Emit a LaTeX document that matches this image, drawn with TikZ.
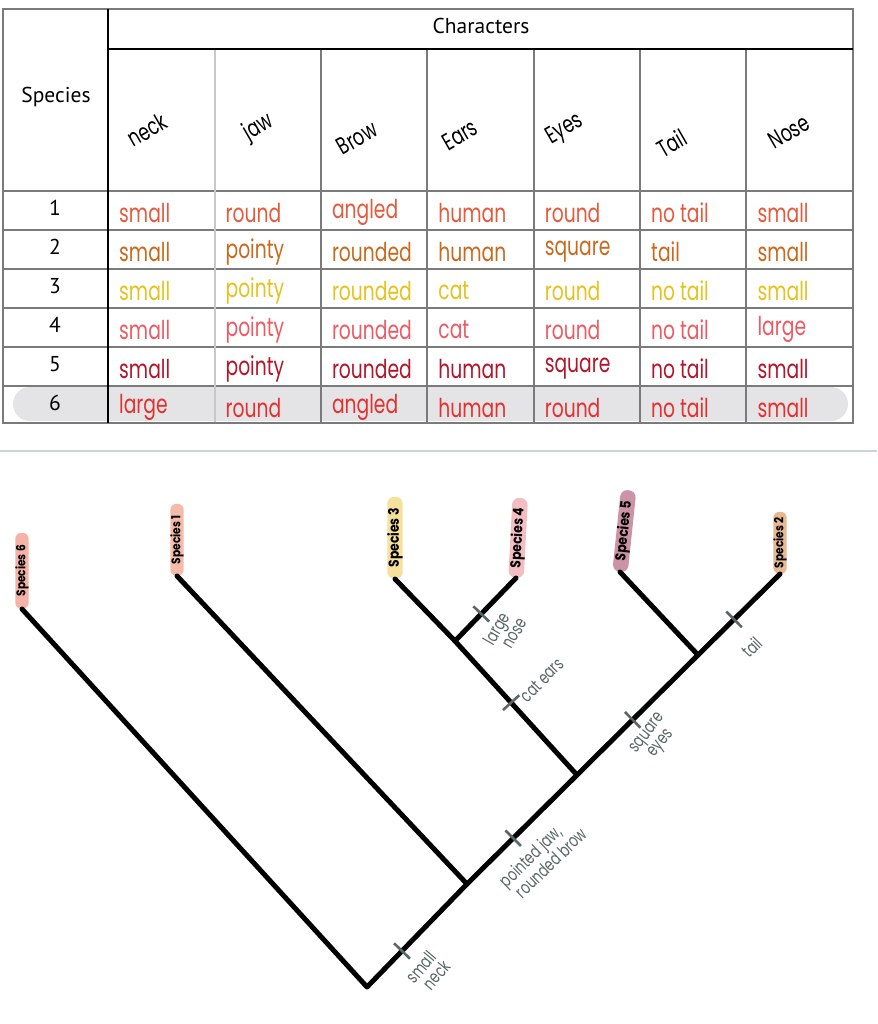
\documentclass[tikz,border=0pt]{standalone}
\usepackage{fontspec}
\setmainfont{PT Sans}
\newfontfamily\hand{Poppins}[FakeStretch=0.72]
\newfontfamily\spfont{Poppins}[FakeStretch=0.85]
\usetikzlibrary{calc}
\definecolor{gridgray}{HTML}{7A7A7A}
\definecolor{gridlight}{HTML}{C8C8C8}
\definecolor{rowhl}{HTML}{E4E3E6}
\definecolor{sepline}{HTML}{C8D5DA}
\definecolor{rowA}{HTML}{E65A3C}
\definecolor{rowB}{HTML}{C86A1E}
\definecolor{rowC}{HTML}{E6C21E}
\definecolor{rowD}{HTML}{EE5A64}
\definecolor{rowE}{HTML}{B3162A}
\definecolor{rowF}{HTML}{E3312F}
\definecolor{labgray}{HTML}{5B6767}
\definecolor{spsix}{HTML}{F4B3A6}
\definecolor{spone}{HTML}{F5BBAA}
\definecolor{spthree}{HTML}{F6E19C}
\definecolor{spfour}{HTML}{F4BDC4}
\definecolor{spfive}{HTML}{CC93A5}
\definecolor{sptwo}{HTML}{E6B894}
\begin{document}
\begin{tikzpicture}[x=1pt,y=-1pt,
  grid/.style={draw=gridgray,line width=1.1pt},
  thickrule/.style={draw=black,line width=2.6pt},
  headtxt/.style={font=\fontsize{21.5}{23}\selectfont,inner sep=0},
  coltxt/.style={font=\hand\fontsize{24}{24}\selectfont,rotate=30,inner sep=0},
  celltxt/.style={font=\hand\fontsize{26}{26}\selectfont,anchor=west,inner sep=0},
  branch/.style={draw=black,line width=5pt,line cap=round,line join=round},
  tick/.style={fill=labgray,draw=none,minimum width=2.6pt,minimum height=22pt,inner sep=0},
  tlabel/.style={font=\hand\fontsize{18}{17}\selectfont,text=labgray,align=left,inner sep=0},
  splabel/.style={rounded corners=6pt,minimum height=12pt,inner sep=0,inner xsep=3pt,anchor=west,text=black,font=\spfont\bfseries\fontsize{12.5}{12.5}\selectfont},
  spbig/.style={minimum height=15pt,rounded corners=7pt,font=\spfont\bfseries\fontsize{14.5}{14.5}\selectfont}
]
\path[use as bounding box,fill=white] (0,0) rectangle (877,1024);

% ---------- table ----------
\fill[rowhl,rounded corners=17pt] (13,387) rectangle (848,421);
\foreach \yy in {191,230,269,308,347,386} \draw[grid] (3,\yy) -- (853,\yy);
\draw[draw=gridlight,line width=1.1pt] (215,49) -- (215,423);
\foreach \xx in {321,427,534,640,746} \draw[grid] (\xx,49) -- (\xx,423);
\draw[grid,line width=1.3pt] (3,9) rectangle (853,423);
\draw[thickrule] (108,9) -- (108,423);
\draw[thickrule] (108,49) -- (853,49);

\node[headtxt] (hchar) at (481,26) {Characters};
\node[headtxt] (hspec) at (56,97) {Species};
\foreach \n in {1,...,6}{
  \pgfmathsetmacro\ny{208+(\n-1)*39}
  \node[headtxt] (num-\n) at (55,\ny) {\n};
}
\foreach \t/\xx/\yy [count=\i] in {neck/147/130,jaw/259/128,Brow/357/138,Ears/460/135,Eyes/565/130,Tail/672/143,Nose/789/132}
  \node[coltxt] (col-\i) at (\xx,\yy) {\t};

\foreach \r/\c/\L in {
  1/rowA/{small,round,angled,human,round,no tail,small},
  2/rowB/{small,pointy,rounded,human,square,tail,small},
  3/rowC/{small,pointy,rounded,cat,round,no tail,small},
  4/rowD/{small,pointy,rounded,cat,round,no tail,large},
  5/rowE/{small,pointy,rounded,human,square,no tail,small},
  6/rowF/{large,round,angled,human,round,no tail,small}}{
  \foreach \t [count=\i] in \L {
    \pgfmathsetmacro\cx{108+(\i-1)*106.4+11}
    \pgfmathsetmacro\cy{210.5+(\r-1)*39+2}
    \node[celltxt,text=\c] (cell-\r-\i) at (\cx,\cy) {\t};
  }
}

% separator
\draw[draw=sepline,line width=1.3pt] (0,451) -- (877,451);

% ---------- tree ----------
\coordinate (root) at (367,987);
\coordinate (nB) at (467,884);
\coordinate (nC) at (577,775);
\coordinate (nD) at (455,641);
\coordinate (nE) at (698,655);

\node[splabel,fill=spsix,rotate=90,minimum width=76pt] (s6) at (22,609) {Species 6};
\node[splabel,fill=spone,rotate=90,minimum width=72pt] (s1) at (177,576) {Species 1};
\node[splabel,spbig,fill=spthree,rotate=90,minimum width=82pt] (s3) at (395,579) {Species 3};
\node[splabel,spbig,fill=spfour,rotate=87,minimum width=80pt] (s4) at (516,578) {Species 4};
\node[splabel,spbig,fill=spfive,rotate=84,minimum width=82pt] (s5) at (620,572) {Species 5};
\node[splabel,fill=sptwo,rotate=90,minimum width=62pt] (s2) at (780,574) {Species 2};

\draw[branch] (s6.west) -- (root) -- (nB) -- (nC) -- (nE) -- (s2.west);
\draw[branch] (nB) -- (s1.west);
\draw[branch] (nC) -- (nD) -- (s3.west);
\draw[branch] (nD) -- (s4.west);
\draw[branch] (nE) -- (s5.west);

% character ticks
\path (root) -- (nB) node[tick,pos=0.35,sloped] (k1) {};
\path (nB) -- (nC) node[tick,pos=0.42,sloped] (k2) {};
\path (nC) -- (nD) node[tick,pos=0.54,sloped] (k3) {};
\path (nD) -- (s4.west) node[tick,pos=0.43,sloped] (k4) {};
\path (nC) -- (nE) node[tick,pos=0.46,sloped] (k5) {};
\path (nE) -- (s2.west) node[tick,pos=0.44,sloped] (k6) {};

\node[tlabel,rotate=50] (L1) at (428,972) {small\\\hspace*{6pt}neck};
\node[tlabel,rotate=44] (L2) at (543,857) {pointed jaw,\\\hspace*{4pt}rounded brow};
\node[tlabel,rotate=45] (L3) at (542,680) {cat ears};
\node[tlabel,rotate=60] (L4) at (505,631) {large\\\hspace*{6pt}nose};
\node[tlabel,rotate=52] (L5) at (655,739) {square\\\hspace*{8pt}eyes};
\node[tlabel,rotate=45] (L6) at (752,647) {tail};
\end{tikzpicture}
\end{document}
